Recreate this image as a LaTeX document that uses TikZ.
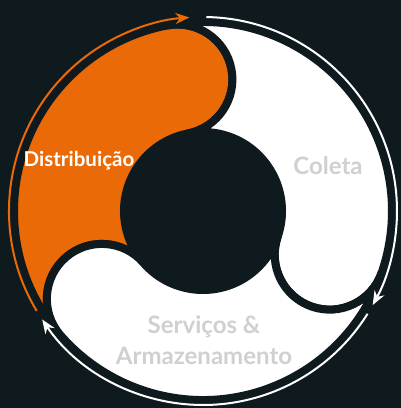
\documentclass[tikz,border=0pt]{standalone}
\usepackage{fontspec}
\setmainfont{Lato}
\usetikzlibrary{arrows.meta}

\definecolor{bgdark}{HTML}{0F1A1E}
\definecolor{distorange}{HTML}{EA6A08}
\definecolor{textgrey}{HTML}{D0D0D0}

\begin{document}
\begin{tikzpicture}[x=1pt,y=1pt,>={Stealth[length=14pt,width=11pt]},
  piece/.style={draw=bgdark,line width=8pt,line join=round},
  flow/.style={->,line width=2pt},
  part text/.style={font=\bfseries\fontsize{24}{31}\selectfont,text=textgrey,align=center}]
  \fill[bgdark] (-203,-197) rectangle (198,211);
  \useasboundingbox (-203,-197) rectangle (198,211);
  % the three parts of the cycle: trailing angle / colour
  \foreach \a/\col in {221/distorange, 101/white, -19/white}
    \path[piece,fill=\col] (\a:189) arc[start angle=\a,end angle=\a-120,radius=189]
      arc[start angle=\a-120,end angle=\a-300,radius=55]
      arc[start angle=\a-120,end angle=\a,radius=79]
      arc[start angle=\a+180,end angle=\a+360,radius=55] -- cycle;
  \node[part text,text=white,font=\bfseries\fontsize{20.5}{24}\selectfont] (dist) at (-124,50) {Distribuição};
  \node[part text] (coleta) at (125,45) {Coleta};
  \node[part text] (serv) at (1,-129) {Serviços \&\\Armazenamento};
  % outer arrows
  \coordinate (dist-from) at (211:194);
  \coordinate (coleta-from) at (89:194);
  \coordinate (serv-from) at (-32:194);
  \draw[flow,distorange] (dist-from) arc[start angle=211,end angle=94,radius=194];
  \draw[flow,white] (coleta-from) arc[start angle=89,end angle=-29,radius=194];
  \draw[flow,white] (serv-from) arc[start angle=-32,end angle=-146,radius=194];
\end{tikzpicture}
\end{document}
